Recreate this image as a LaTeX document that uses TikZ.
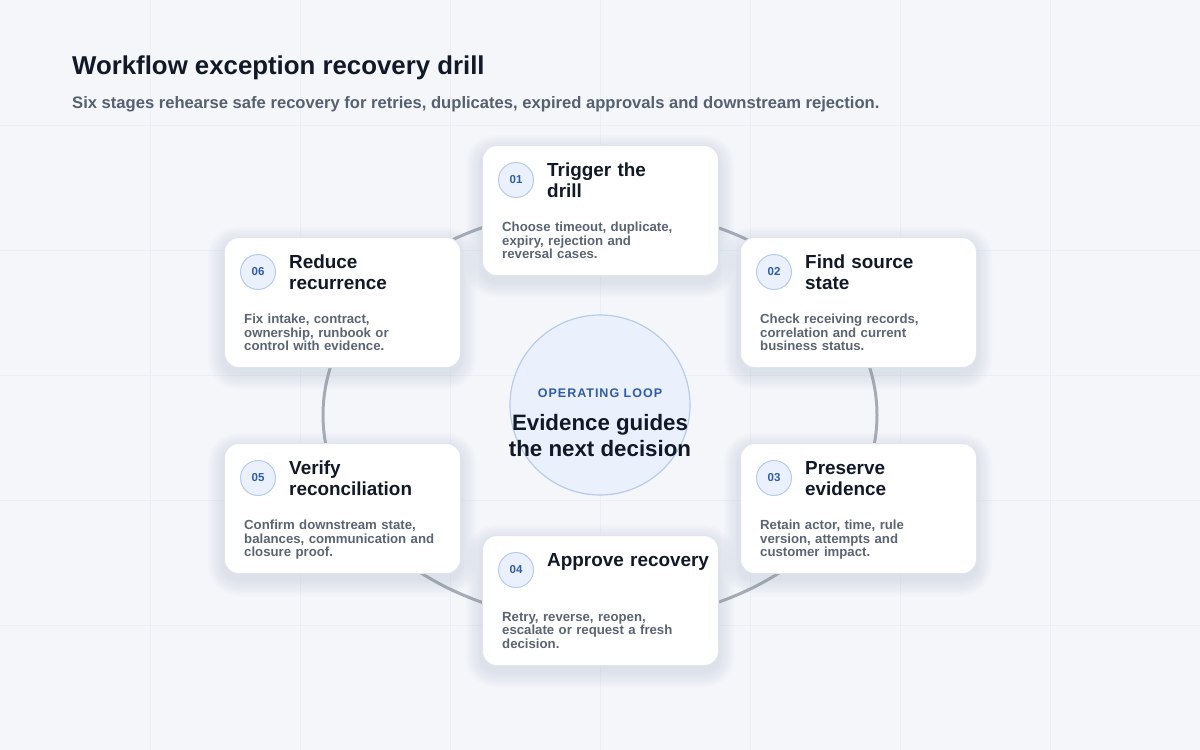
\documentclass[tikz,border=0pt]{standalone}
\usepackage{fontspec}
\setmainfont{Liberation Sans}
\definecolor{bg}{HTML}{F4F6FA}
\definecolor{gridc}{HTML}{EBEEF4}
\definecolor{ink}{HTML}{111827}
\definecolor{sub}{HTML}{556070}
\definecolor{desc}{HTML}{5B6473}
\definecolor{blue}{HTML}{2F5BAA}
\definecolor{lb}{HTML}{EAF1FC}
\definecolor{lbs}{HTML}{B7CBEB}
\definecolor{ring}{HTML}{A6ACB6}
\definecolor{cardb}{HTML}{E0E5ED}
\definecolor{shad}{HTML}{7A869C}
\tikzset{
 card/.style={draw=cardb,line width=1pt,fill=white,rounded corners=14pt,minimum width=236pt,minimum height=130pt,anchor=north west,inner sep=0},
 badge/.style={circle,draw=lbs,fill=lb,line width=1pt,minimum size=35pt,inner sep=0,text=blue,font=\fontsize{11.5}{11.5}\selectfont\bfseries},
 ttl/.style={anchor=north west,text width=170pt,align=left,inner sep=0,text=ink,font=\fontsize{18.9}{21}\selectfont\bfseries},
 dsc/.style={anchor=north west,text width=210pt,align=left,inner sep=0,text=desc,font=\fontsize{13.2}{13.4}\selectfont\bfseries}
}
\newcommand{\mycard}[6]{%
 \foreach \s in {2,4,...,16} \fill[shad,opacity=0.018,rounded corners=14pt+\s pt] (#2-\s,#3+6-\s) rectangle (#2+236+\s,#3+136+\s);
 \node[card] (#1) at (#2,#3) {};
 \node[badge] (#1b) at (#2+34,#3+35) {#4};
 \node[ttl] (#1t) at (#2+65,#3+18) {#5};
 \node[dsc] (#1d) at (#2+20,#3+77) {#6};
}
\begin{document}
\begin{tikzpicture}[x=1pt,y=-1pt]
\fill[bg] (0,0) rectangle (1200,750);
\useasboundingbox (0,0) rectangle (1200,750);
\foreach \i in {150,300,...,1050} \draw[gridc,line width=0.8pt] (\i,0) -- (\i,750);
\foreach \j in {125,250,...,625} \draw[gridc,line width=0.8pt] (0,\j) -- (1200,\j);
\node[anchor=west,inner sep=0,text=ink,font=\fontsize{25.8}{26}\selectfont\bfseries] (title) at (72,68) {Workflow exception recovery drill};
\node[anchor=west,inner sep=0,text=sub,font=\fontsize{16.6}{17}\selectfont\bfseries] (subt) at (72,104) {Six stages rehearse safe recovery for retries, duplicates, expired approvals and downstream rejection.};
\draw[ring,line width=3pt] (600,415) ellipse [x radius=277, y radius=207];
\node[circle,draw=lbs,fill=lb,line width=1.2pt,minimum size=180pt,inner sep=0] (hub) at (600,405) {};
\node[text=blue,inner sep=0,font=\fontsize{12.5}{12.5}\selectfont\bfseries\addfontfeature{LetterSpace=8}] (hk) at (600,393) {OPERATING LOOP};
\node[text=ink,inner sep=0,align=center,font=\fontsize{22.3}{26}\selectfont\bfseries] (hm) at (600,436) {Evidence guides\\the next decision};
\mycard{c1}{482}{145}{01}{Trigger the\\drill}{Choose timeout, duplicate,\\expiry, rejection and\\reversal cases.}
\mycard{c2}{740}{237}{02}{Find source\\state}{Check receiving records,\\correlation and current\\business status.}
\mycard{c3}{740}{443}{03}{Preserve\\evidence}{Retain actor, time, rule\\version, attempts and\\customer impact.}
\mycard{c4}{482}{535}{04}{Approve recovery}{Retry, reverse, reopen,\\escalate or request a fresh\\decision.}
\mycard{c5}{224}{443}{05}{Verify\\reconciliation}{Confirm downstream state,\\balances, communication and\\closure proof.}
\mycard{c6}{224}{237}{06}{Reduce\\recurrence}{Fix intake, contract,\\ownership, runbook or\\control with evidence.}
\end{tikzpicture}
\end{document}
